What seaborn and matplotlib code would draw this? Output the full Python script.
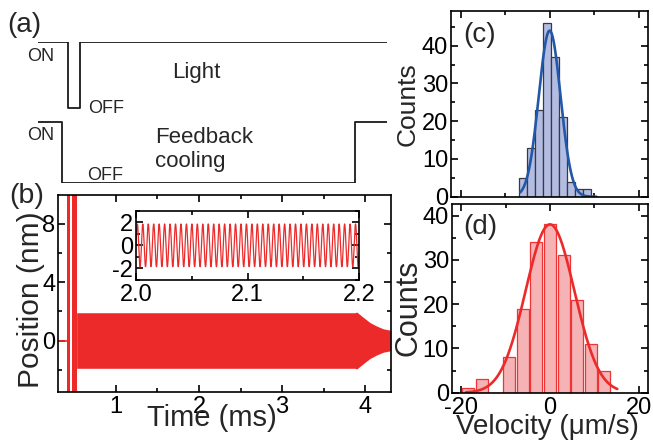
import numpy as np
import seaborn as sns
import matplotlib.pyplot as plt
from matplotlib.ticker import MultipleLocator, FormatStrFormatter

# (a) timing diagram: switching times in ms, state 1 = ON, 0 = OFF
light_times = [0.064, 0.424, 0.424, 0.566, 0.566, 4.26]
light_state = [1, 1, 0, 0, 1, 1]
cool_times = [0.064, 0.345, 0.345, 3.88, 3.88, 4.26]
cool_state = [1, 1, 0, 0, 1, 1]

# (b) position trace: baseline, two off-scale bursts, then the oscillation envelope
base_t = [0.30, 0.406]
base_x = [0.0, 0.0]
burst_start = [0.406, 0.473]
burst_end = [0.446, 0.526]
env_t = [0.526, 3.88, 3.90, 3.98, 4.06, 4.14, 4.22, 4.31]
env_amp = [1.9, 1.9, 1.95, 1.58, 1.23, 0.99, 0.80, 0.70]

# inset: steady oscillation (2.0 - 2.2 ms)
osc_amp = 1.85        # nm
osc_freq = 204.7      # cycles per ms
osc_peak = 2.0012     # ms, first crest

# (c) velocity histogram with feedback on
c_centers = [-6.09, -4.27, -2.45, -0.63, 1.19, 3.01, 4.83, 6.65, 8.47]
c_counts = [5, 13, 23, 46, 37, 21, 4, 2, 2]
c_binw = 1.82
c_fit = (44, 0.0, 2.45)      # amplitude, mean, sigma
c_fit_range = (-6.6, 10.5)

# (d) velocity histogram with feedback off
d_centers = [-18.42, -15.35, -12.28, -9.21, -6.14, -3.07, 0.0, 3.07, 6.14, 9.21, 12.28]
d_counts = [1, 3, 0, 8, 19, 34, 38, 31, 21, 11, 5]
d_binw = 3.07
d_fit = (38, 0.0, 5.5)
d_fit_range = (-19.0, 15.2)

red = '#ED2A2A'
blue = '#2357A8'

sns.set_style('ticks')
plt.rcParams['font.family'] = ['Liberation Sans', 'DejaVu Sans']
plt.rcParams['axes.unicode_minus'] = False
plt.rcParams.update({
    'xtick.direction': 'in', 'ytick.direction': 'in',
    'xtick.top': True, 'ytick.right': True,
    'xtick.major.size': 5, 'ytick.major.size': 5,
    'xtick.minor.size': 3, 'ytick.minor.size': 3,
    'xtick.major.width': 1.2, 'ytick.major.width': 1.2,
    'xtick.minor.width': 1.2, 'ytick.minor.width': 1.2,
    'axes.linewidth': 1.2, 'axes.edgecolor': 'black',
    'xtick.color': 'black', 'ytick.color': 'black',
})

W, H = 653, 441
fig = plt.figure(figsize=(W / 100, H / 100), dpi=100)


def box(l, t, r, b):
    return [l / W, 1 - b / H, (r - l) / W, (b - t) / H]


def label(x, y, s, size, **kw):
    fig.text(x / W, 1 - y / H, s, fontsize=size, **kw)


def gauss(x, a, mu, s):
    return a * np.exp(-(x - mu) ** 2 / (2 * s ** 2))


# ---- (a) timing diagram
ax_a = fig.add_axes(box(38.3, 42.3, 386.7, 183.3))
ax_a.set_xlim(light_times[0], light_times[-1])
ax_a.set_ylim(0, 141)
ax_a.axis('off')
sns.lineplot(x=light_times, y=75 + 66 * np.array(light_state), ax=ax_a,
             estimator=None, sort=False, color='#1a1a1a', lw=1.3)
sns.lineplot(x=cool_times, y=61.6 * np.array(cool_state), ax=ax_a,
             estimator=None, sort=False, color='#1a1a1a', lw=1.3)

label(26.7, 61, 'ON', 13, va='baseline')
label(171.7, 78.3, 'Light', 16, va='baseline')
label(88.3, 113.3, 'OFF', 13, va='baseline')
label(26.7, 140, 'ON', 13, va='baseline')
label(155, 143.3, 'Feedback', 16, va='baseline')
label(155.5, 166.7, 'cooling', 16, va='baseline')
label(86.7, 180, 'OFF', 13, va='baseline')

# ---- (b) position trace
ax_b = fig.add_axes(box(58.3, 195, 391, 391.7))
sns.lineplot(x=base_t, y=base_x, ax=ax_b, estimator=None, color=red, lw=1.2)
for s, e in zip(burst_start, burst_end):
    ax_b.axvspan(s, e, color=red, lw=0)
env = np.array(env_amp)
ax_b.fill_between(env_t, -env, env, color=red, lw=0)
ax_b.set_xlim(0.305, 4.313)
ax_b.set_ylim(-3.5, 9.95)
ax_b.xaxis.set_major_locator(MultipleLocator(1))
ax_b.xaxis.set_minor_locator(MultipleLocator(0.5))
ax_b.yaxis.set_major_locator(MultipleLocator(4))
ax_b.yaxis.set_minor_locator(MultipleLocator(2))
ax_b.tick_params(labelsize=17, pad=3)
ax_b.tick_params(axis='y', pad=2)
ax_b.set_xlabel('Time (ms)', fontsize=21, va='center')
ax_b.xaxis.set_label_coords((211.7 - 58.3) / 332.7, (391.7 - 418) / 196.7)
ax_b.set_ylabel('Position (nm)', fontsize=21.5, va='center')
ax_b.yaxis.set_label_coords((31 - 58.3) / 332.7, (391.7 - 300) / 196.7)

# inset
ax_i = fig.add_axes(box(136, 210.7, 359.3, 280))
t_in = np.linspace(2.0, 2.2, 4000)
sns.lineplot(x=t_in, y=osc_amp * np.cos(2 * np.pi * osc_freq * (t_in - osc_peak)),
             ax=ax_i, color=red, lw=0.9)
ax_i.set_xlim(2.0, 2.2)
ax_i.set_ylim(-3, 3)
ax_i.xaxis.set_major_locator(MultipleLocator(0.1))
ax_i.xaxis.set_minor_locator(MultipleLocator(0.05))
ax_i.xaxis.set_major_formatter(FormatStrFormatter('%.1f'))
ax_i.yaxis.set_major_locator(MultipleLocator(2))
ax_i.yaxis.set_minor_locator(MultipleLocator(1))
ax_i.tick_params(labelsize=17, pad=3)
ax_i.tick_params(axis='y', pad=2)

# ---- (c) histogram, feedback on
ax_c = fig.add_axes(box(451, 11, 648.3, 196.7))
sns.histplot(x=c_centers, weights=c_counts, binwidth=c_binw,
             binrange=(c_centers[0] - c_binw / 2, c_centers[-1] + c_binw / 2),
             ax=ax_c, color='#B3BCE2', alpha=1, edgecolor='#3A3A3A', linewidth=0.9)
xc = np.linspace(*c_fit_range, 300)
sns.lineplot(x=xc, y=gauss(xc, *c_fit), ax=ax_c, color=blue, lw=1.9)
ax_c.set_xlim(-22.2, 22.2)
ax_c.set_ylim(0, 49.2)
ax_c.xaxis.set_major_locator(MultipleLocator(20))
ax_c.xaxis.set_minor_locator(MultipleLocator(10))
ax_c.yaxis.set_major_locator(MultipleLocator(10))
ax_c.yaxis.set_minor_locator(MultipleLocator(5))
ax_c.tick_params(labelsize=17, pad=2)
ax_c.tick_params(axis='x', labelbottom=False)
ax_c.set_xlabel('')
ax_c.set_ylabel('Counts', fontsize=19, va='center')
ax_c.yaxis.set_label_coords((408 - 451) / 197.3, (196.7 - 104) / 185.7)

# ---- (d) histogram, feedback off
ax_d = fig.add_axes(box(451.7, 204, 648.3, 392.7))
sns.histplot(x=d_centers, weights=d_counts, binwidth=d_binw,
             binrange=(d_centers[0] - d_binw / 2, d_centers[-1] + d_binw / 2),
             shrink=0.88, ax=ax_d, color='#F5B3B6', alpha=1, edgecolor='#EE3535',
             linewidth=0.9)
xd = np.linspace(*d_fit_range, 300)
sns.lineplot(x=xd, y=gauss(xd, *d_fit), ax=ax_d, color=red, lw=1.9)
ax_d.set_xlim(-22.2, 22.2)
ax_d.set_ylim(0, 42.6)
ax_d.xaxis.set_major_locator(MultipleLocator(20))
ax_d.xaxis.set_minor_locator(MultipleLocator(10))
ax_d.yaxis.set_major_locator(MultipleLocator(10))
ax_d.yaxis.set_minor_locator(MultipleLocator(5))
ax_d.tick_params(labelsize=17, pad=2)
ax_d.tick_params(axis='x', pad=3)
ax_d.set_xlabel('Velocity (\u03bcm/s)', fontsize=20, va='center')
ax_d.xaxis.set_label_coords((547.5 - 451.7) / 196.6, (392.7 - 427) / 188.7)
ax_d.set_ylabel('Counts', fontsize=22, va='center')
ax_d.yaxis.set_label_coords((408 - 451.7) / 196.6, (392.7 - 308) / 188.7)

# panel letters
label(24.5, 25, '(a)', 20, ha='center', va='center')
label(26.5, 196.5, '(b)', 20.5, ha='center', va='center')
label(479.5, 35, '(c)', 20, ha='center', va='center')
label(480, 226.5, '(d)', 20, ha='center', va='center')

fig.savefig('out.png', dpi=100)
